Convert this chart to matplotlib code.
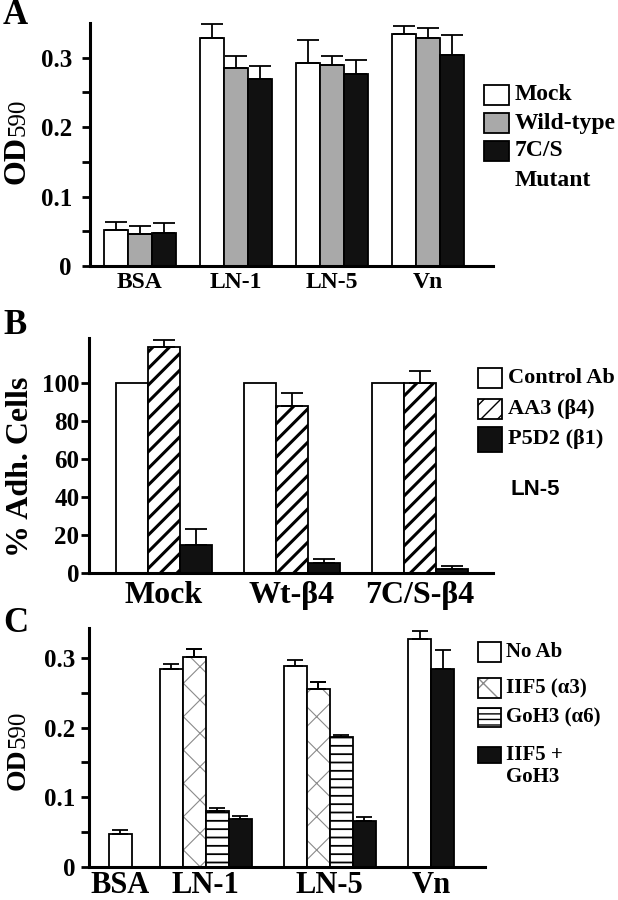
import matplotlib
matplotlib.use('Agg')
import matplotlib.pyplot as plt
from matplotlib.patches import Rectangle
import numpy as np

plt.rcParams['font.family'] = ['Liberation Serif', 'DejaVu Serif']
plt.rcParams['font.weight'] = 'bold'

# ---- panel A: OD590 per substrate, three cell lines
a_groups = ['BSA', 'LN-1', 'LN-5', 'Vn']
a_mock = [0.052, 0.329, 0.292, 0.334]
a_mock_err = [0.011, 0.019, 0.034, 0.011]
a_wt = [0.046, 0.285, 0.289, 0.329]
a_wt_err = [0.012, 0.018, 0.013, 0.014]
a_mut = [0.047, 0.270, 0.277, 0.304]
a_mut_err = [0.015, 0.018, 0.019, 0.028]

# ---- panel B: % adherent cells on LN-5 with blocking antibodies
b_groups = ['Mock', 'Wt-β4', '7C/S-β4']
b_control = [100, 100, 100]
b_control_err = [0, 0, 0]
b_aa3 = [119.4, 88, 100]
b_aa3_err = [3.6, 7, 6.6]
b_p5d2 = [14.8, 5.3, 2.3]
b_p5d2_err = [8.2, 1.9, 1.4]

# ---- panel C: OD590 with integrin blocking antibodies (nan = not done)
c_groups = ['BSA', 'LN-1', 'LN-5', 'Vn']
c_noab = [0.047, 0.284, 0.289, 0.327]
c_noab_err = [0.006, 0.007, 0.008, 0.011]
c_iif5 = [np.nan, 0.301, 0.256, np.nan]
c_iif5_err = [0, 0.012, 0.009, 0]
c_goh3 = [np.nan, 0.081, 0.186, np.nan]
c_goh3_err = [0, 0.004, 0.003, 0]
c_both = [np.nan, 0.069, 0.066, 0.284]
c_both_err = [0, 0.004, 0.006, 0.027]

W, H = 618, 900
fig = plt.figure(figsize=(W / 100, H / 100), dpi=100)


def px_axes(left, top, right, bottom):
    return fig.add_axes([left / W, 1 - bottom / H, (right - left) / W, (bottom - top) / H])


def style_axes(ax, ytick_pad):
    for s in ['top', 'right']:
        ax.spines[s].set_visible(False)
    for s in ['left', 'bottom']:
        ax.spines[s].set_linewidth(2.2)
    ax.tick_params(axis='x', length=0)
    ax.tick_params(axis='y', which='both', direction='out', length=6, width=2, pad=ytick_pad)


def draw_bars(ax, pos, vals, errs, width, capsize, **kw):
    pos = np.asarray(pos, float)
    vals = np.asarray(vals, float)
    errs = np.asarray(errs, float)
    ok = ~np.isnan(vals)
    bars = ax.bar(pos[ok], vals[ok], width, zorder=2, **kw)
    e = ok & (errs > 0)
    if e.any():
        ax.errorbar(pos[e], vals[e], yerr=[np.zeros(e.sum()), errs[e]], fmt='none',
                    ecolor='black', elinewidth=1.3, capsize=capsize, capthick=1.3, zorder=3)
    return bars


def legend_px(entries, x0, x1, centers, heights, text_x, fontsize, line_px):
    for (label, fc, hatch, hc), cy, h in zip(entries, centers, heights):
        plt.rcParams['hatch.linewidth'] = 1.0
        r = Rectangle(((x0) / W, 1 - (cy + h / 2) / H), (x1 - x0) / W, h / H,
                      transform=fig.transFigure, facecolor=fc, edgecolor=hc,
                      hatch=hatch, linewidth=0)
        fig.add_artist(r)
        fig.add_artist(Rectangle(((x0) / W, 1 - (cy + h / 2) / H), (x1 - x0) / W, h / H,
                                 transform=fig.transFigure, fill=False,
                                 edgecolor='black', linewidth=1.3))
        for i, line in enumerate(label.split('\n')):
            fig.text(text_x / W, 1 - (cy + i * line_px) / H, line, fontsize=fontsize,
                     ha='left', va='center', fontweight='bold')


# ================= panel A
axA = px_axes(90, 23, 493, 266)
style_axes(axA, 7)
wA = 0.25
xA = np.arange(len(a_groups))
draw_bars(axA, xA - wA, a_mock, a_mock_err, wA, 8, color='white', edgecolor='black', linewidth=1.3)
draw_bars(axA, xA, a_wt, a_wt_err, wA, 8, color='#a9a9a9', edgecolor='black', linewidth=1.3)
draw_bars(axA, xA + wA, a_mut, a_mut_err, wA, 8, color='#111111', edgecolor='black', linewidth=1.3)
axA.set_xlim(-0.52, 3.68)
axA.set_ylim(0, 0.35)
axA.set_yticks([0, 0.1, 0.2, 0.3])
axA.set_yticklabels(['0', '0.1', '0.2', '0.3'], fontsize=18)
axA.set_yticks([0.05, 0.15, 0.25], minor=True)
axA.set_xticks(xA)
axA.set_xticklabels(a_groups, fontsize=17)
axA.tick_params(axis='x', pad=4)

fig.text(3 / W, 1 - 15 / H, 'A', fontsize=25, fontweight='bold', ha='left', va='center')
fig.text(17 / W, 1 - 136 / H, 'OD', fontsize=23, fontweight='bold', rotation=90, ha='center', va='top')
fig.text(18 / W, 1 - 136 / H, '590', fontsize=18, fontweight='normal', rotation=90, ha='center', va='bottom')

legend_px([('Mock', 'white', None, 'black'),
           ('Wild-type', '#a9a9a9', None, 'black'),
           ('7C/S\nMutant', '#111111', None, 'black')],
          484, 509, [95, 123, 151], [20, 20, 20], 515, 17, 30)

# ================= panel B
axB = px_axes(89, 338, 493, 573)
style_axes(axB, 1)
wB = 0.25
xB = np.arange(len(b_groups))
draw_bars(axB, xB - wB, b_control, b_control_err, wB, 8, color='white', edgecolor='black', linewidth=1.3)
plt.rcParams['hatch.linewidth'] = 2.2
hb = draw_bars(axB, xB, b_aa3, b_aa3_err, wB, 8, color='white', edgecolor='black', linewidth=1.3, hatch='//')
for p in hb:
    if hasattr(p, 'set_hatch_linewidth'):
        p.set_hatch_linewidth(2.2)
draw_bars(axB, xB + wB, b_p5d2, b_p5d2_err, wB, 8, color='#111111', edgecolor='black', linewidth=1.3)
axB.set_xlim(-0.586, 2.57)
axB.set_ylim(0, 124)
axB.set_yticks([0, 20, 40, 60, 80, 100])
axB.set_yticklabels(['0', '20', '40', '60', '80', '100'], fontsize=18)
axB.set_xticks(xB)
axB.set_xticklabels(b_groups, fontsize=23)
axB.tick_params(axis='x', pad=6)

fig.text(3 / W, 1 - 325 / H, 'B', fontsize=25, fontweight='bold', ha='left', va='center')
fig.text(21 / W, 1 - 467 / H, '% Adh. Cells', fontsize=23, fontweight='bold', rotation=90,
         ha='center', va='center')

legend_px([('Control Ab', 'white', None, 'black'),
           ('AA3 (β4)', 'white', '//', 'black'),
           ('P5D2 (β1)', '#111111', None, 'black')],
          478, 502, [378, 409, 439], [20, 20, 25], 508, 16, 30)
fig.text(511 / W, 1 - 490 / H, 'LN-5', fontsize=16, fontweight='bold', family='Liberation Sans',
         ha='left', va='center')

# ================= panel C
axC = px_axes(89, 628, 485, 867)
style_axes(axC, 4)
wC = 0.25
c_pos = [0, 0.924, 2.272, 3.375]
c_series = [c_noab, c_iif5, c_goh3, c_both]
c_errs = [c_noab_err, c_iif5_err, c_goh3_err, c_both_err]
# place only the bars that exist in each group, side by side around the group centre
c_x = [[np.nan] * len(c_groups) for _ in c_series]
for g, centre in enumerate(c_pos):
    present = [k for k in range(len(c_series)) if not np.isnan(c_series[k][g])]
    start = centre - len(present) * wC / 2 + wC / 2
    for j, k in enumerate(present):
        c_x[k][g] = start + j * wC

draw_bars(axC, c_x[0], c_noab, c_noab_err, wC, 6, color='white', edgecolor='black', linewidth=1.3)
plt.rcParams['hatch.linewidth'] = 0.8
hx = draw_bars(axC, c_x[1], c_iif5, c_iif5_err, wC, 6, color='white', edgecolor='#8a8a8a', linewidth=0, hatch='x')
for p in hx:
    if hasattr(p, 'set_hatch_linewidth'):
        p.set_hatch_linewidth(0.8)
draw_bars(axC, c_x[1], c_iif5, c_iif5_err, wC, 6, fill=False, edgecolor='black', linewidth=1.3)
plt.rcParams['hatch.linewidth'] = 1.3
hg = draw_bars(axC, c_x[2], c_goh3, c_goh3_err, wC, 6, color='white', edgecolor='black', linewidth=1.3, hatch='--')
for p in hg:
    if hasattr(p, 'set_hatch_linewidth'):
        p.set_hatch_linewidth(1.3)
draw_bars(axC, c_x[3], c_both, c_both_err, wC, 6, color='#111111', edgecolor='black', linewidth=1.3)
axC.set_xlim(-0.342, 3.96)
axC.set_ylim(0, 0.343)
axC.set_yticks([0, 0.1, 0.2, 0.3])
axC.set_yticklabels(['0', '0.1', '0.2', '0.3'], fontsize=18)
axC.set_yticks([0.05, 0.15, 0.25], minor=True)
axC.set_xticks(c_pos)
axC.set_xticklabels(c_groups, fontsize=22)
axC.tick_params(axis='x', pad=3)

fig.text(3 / W, 1 - 623 / H, 'C', fontsize=25, fontweight='bold', ha='left', va='center')
fig.text(18 / W, 1 - 748 / H, 'OD', fontsize=20, fontweight='bold', rotation=90, ha='center', va='top')
fig.text(19 / W, 1 - 748 / H, '590', fontsize=18, fontweight='normal', rotation=90, ha='center', va='bottom')

legend_px([('No Ab', 'white', None, 'black'),
           ('IIF5 (α3)', 'white', 'x', '#8a8a8a'),
           ('GoH3 (α6)', 'white', '---', 'black'),
           ('IIF5 +\nGoH3', '#111111', None, 'black')],
          478, 501, [652, 688, 717, 755], [20, 20, 19, 16], 506, 15, 22)

fig.savefig('out.png', dpi=100)
